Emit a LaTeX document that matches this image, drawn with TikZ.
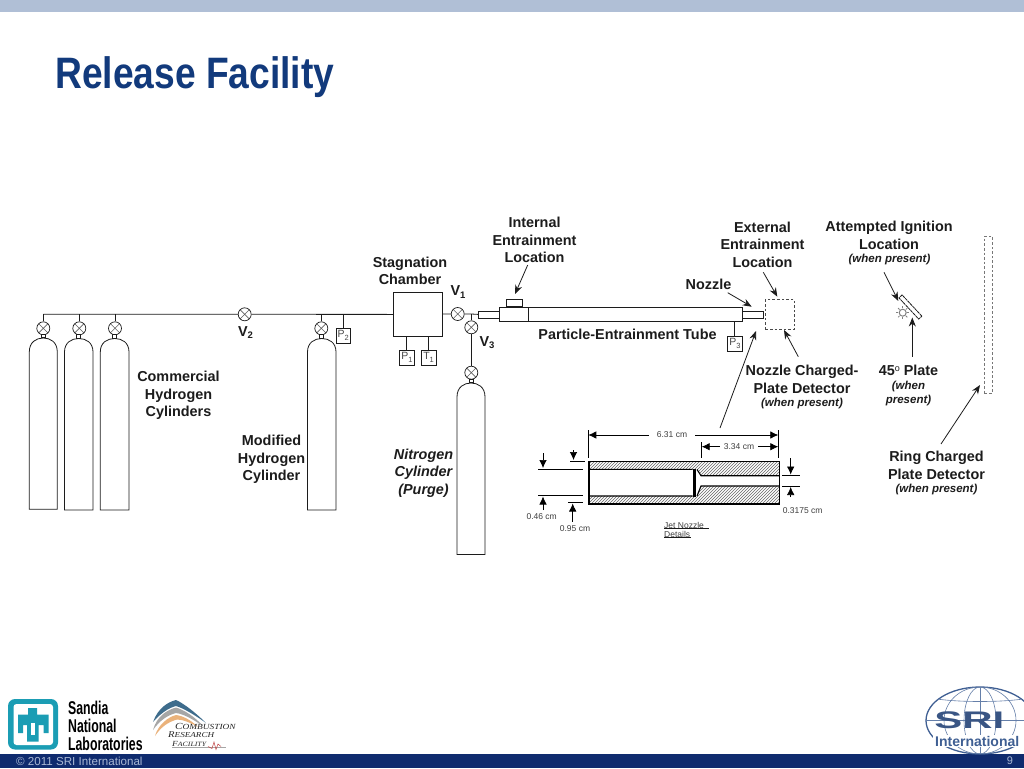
\documentclass[tikz,border=0pt]{standalone}
\usepackage{fontspec}
\setmainfont{Liberation Sans}
\newfontfamily\serifcrf{Liberation Serif}
\usetikzlibrary{arrows.meta,patterns,calc}
\definecolor{barlight}{HTML}{B0BFD6}
\definecolor{bardark}{HTML}{0F2B6E}
\definecolor{titleblue}{HTML}{123A7C}
\definecolor{inkd}{HTML}{1C1C1C}
\definecolor{teal}{HTML}{1B9DB4}
\definecolor{foot}{HTML}{A9B8D4}
\definecolor{sriblue}{HTML}{3F5F93}
\definecolor{crfblue}{HTML}{3E6C8C}
\tikzset{
  x=1pt,y=-1pt,
  pipe/.style={draw=inkd,line width=.8pt},
  valve/.style={circle,draw=inkd,line width=.7pt,minimum size=13pt,inner sep=0pt,fill=white,
    path picture={\draw[inkd!70,line width=.6pt]
      (path picture bounding box.north west)--(path picture bounding box.south east)
      (path picture bounding box.north east)--(path picture bounding box.south west);}},
  neckbox/.style={draw=inkd,line width=.7pt,minimum width=4pt,minimum height=3.5pt,inner sep=0pt,fill=white},
  gauge/.style={draw=inkd,line width=.6pt,minimum width=14.5pt,minimum height=14.5pt,inner sep=0pt,fill=white,
    font=\fontsize{10.5}{11}\selectfont,text=inkd!80},
  tubebox/.style={draw=inkd,line width=.8pt,inner sep=0pt,fill=white},
  lab/.style={align=center,inner sep=0pt,text=inkd,font=\fontsize{14.4}{17.4}\selectfont\bfseries},
  labit/.style={align=center,inner sep=0pt,text=inkd,font=\fontsize{14.4}{17.4}\selectfont\bfseries\itshape},
  sublab/.style={align=center,inner sep=0pt,text=inkd,font=\fontsize{11.5}{14.5}\selectfont\bfseries\itshape},
  dim/.style={inner sep=0pt,text=inkd!85,font=\fontsize{8.5}{9}\selectfont},
  callout/.style={draw=inkd,line width=.8pt,-{Stealth[length=9pt,width=7pt]}},
  dimline/.style={draw=black,line width=.7pt},
  dimarrow/.style={draw=black,line width=.7pt,-{Latex[length=8pt,width=7.5pt]}},
  dashbox/.style={draw=inkd!80,line width=.8pt,dashed,dash pattern=on 2.6pt off 2pt,inner sep=0pt},
  crftext/.style={anchor=west,inner sep=0pt,text=black!85,xscale=1.2},
}
\newcommand{\cylbody}[6]{% name, xl, xr, top, bottom, shoulder
  \draw[draw=inkd,line width=.8pt,fill=white] (#2,#5) -- (#2,#6)
    .. controls (#2,{#4+4}) and ({#2+7},#4) .. ({(#2+#3)/2},#4)
    .. controls ({#3-7},#4) and (#3,{#4+4}) .. (#3,#6) -- (#3,#5) -- cycle;
  \coordinate (#1) at ({(#2+#3)/2},#4);
}
\begin{document}
\begin{tikzpicture}
\useasboundingbox (0,0) rectangle (1024,768);
\fill[white] (0,0) rectangle (1024,768);
\fill[barlight] (0,0) rectangle (1024,12);
\fill[bardark] (0,754) rectangle (1024,768);
\node[anchor=west,inner sep=0pt,text=titleblue,xscale=.845,font=\fontsize{44}{48}\selectfont\bfseries] (title) at (55,77.5) {\hspace{0pt}Release Facility};

% cylinders
\cylbody{c1}{29.3}{57.3}{338}{509.3}{352}
\cylbody{c2}{64.5}{93}{338.5}{510}{352}
\cylbody{c3}{100.3}{129}{338.5}{510}{352}
\cylbody{c4}{307.5}{336}{338.5}{510}{352}
\cylbody{c5}{457}{485}{383}{554.5}{397}

% header and valves
\coordinate (h0) at (43.3,314.3);
\node[valve] (vc1) at (43.3,328.3) {};
\node[valve] (vc2) at (79.3,328.3) {};
\node[valve] (vc3) at (115,328.3) {};
\node[valve] (vc4) at (321.3,328.3) {};
\node[valve] (v2) at (244.7,314.3) {};
\node[tubebox,minimum width=49.3pt,minimum height=43.4pt,anchor=north west] (stag) at (393,292.3) {};
\draw[pipe] (h0) -- (v2.west) (v2.east) -- (stag.west);
\foreach \v in {vc1,vc2,vc3,vc4}{\draw[pipe] (\v.north) -- (\v.north |- h0);}
\foreach \v/\c in {vc1/c1,vc2/c2,vc3/c3,vc4/c4}{
  \node[neckbox,anchor=south] at (\c) {};
}
\node[gauge,anchor=north west] (p2) at (335.7,328) {P\raisebox{-2.5pt}{\fontsize{7.5}{8}\selectfont 2}};
\draw[pipe] (p2.north) -- (p2.north |- h0);

% chamber gauges
\node[gauge,anchor=north west] (p1) at (399.3,350) {P\raisebox{-2.5pt}{\fontsize{7.5}{8}\selectfont 1}};
\node[gauge,anchor=north west] (t1) at (421,350) {T\raisebox{-2.5pt}{\fontsize{7.5}{8}\selectfont 1}};
\draw[pipe] (p1.north) -- (p1.north |- stag.south);
\draw[pipe] (t1.north) -- (t1.north |- stag.south);

% V1, V3 and tube
\node[valve] (v1) at (457.7,314) {};
\node[valve] (v3) at (471.3,327.3) {};
\node[valve] (vc5) at (471.3,372.7) {};
\node[neckbox,anchor=south] at (c5) {};
\node[tubebox,minimum width=21pt,minimum height=7pt,anchor=north west] (inlet) at (478.3,310.5) {};
\node[tubebox,minimum width=28.4pt,minimum height=14.3pt,anchor=north west] (entr) at (499.3,307) {};
\node[tubebox,minimum width=15.4pt,minimum height=7.5pt,anchor=south west] (port) at (506.3,307) {};
\node[tubebox,minimum width=214pt,minimum height=14.3pt,anchor=north west] (tube) at (527.7,307) {};
\node[tubebox,minimum width=21.7pt,minimum height=7pt,anchor=north west] (noz) at (741.7,310.5) {};
\coordinate (jn) at (471.3,314);
\draw[pipe] (stag.east |- v1) -- (v1.west) (v1.east) -- (jn) -- (inlet.west);
\draw[pipe] (jn) -- (v3.north) (v3.south) -- (vc5.north);
\node[gauge,anchor=north west] (p3) at (727.3,336) {P\raisebox{-2.5pt}{\fontsize{7.5}{8}\selectfont 3}};
\draw[pipe] (p3.north) -- (p3.north |- tube.south);

% detectors
\node[dashbox,minimum width=29pt,minimum height=29.7pt,anchor=north west] (ncpd) at (765,299.3) {};
\node[dashbox,draw=inkd!60,minimum width=8pt,minimum height=156.5pt,anchor=north west] (ring) at (984,236) {};
\node[draw=inkd,line width=.8pt,minimum width=29pt,minimum height=4.3pt,inner sep=0pt,rotate=-47,fill=white,
   dash pattern=on 3pt off .6pt] (plate) at (910.4,307) {};
\node[circle,draw=gray,line width=1pt,minimum size=7pt,inner sep=0pt] (spark) at (902.7,312.7) {};
\foreach \a in {0,45,...,315}{\draw[gray,line width=.8pt] (spark) ++(\a:4.5) -- ++(\a:2);}

% labels
\node[lab] (lcom) at (178.5,395.5) {Commercial\\Hydrogen\\Cylinders};
\node[lab] (lmod) at (271.5,459.5) {Modified\\Hydrogen\\Cylinder};
\node[lab] (lsta) at (410,271) {Stagnation\\Chamber};
\node[lab] (lv1) at (458,292) {V\raisebox{-2.5pt}{\fontsize{9.5}{10}\selectfont 1}};
\node[lab] (lv2) at (245.5,332.5) {V\raisebox{-2.5pt}{\fontsize{9.5}{10}\selectfont 2}};
\node[lab] (lv3) at (487,342.5) {V\raisebox{-2.5pt}{\fontsize{9.5}{10}\selectfont 3}};
\node[lab] (lint) at (534.5,240) {Internal\\Entrainment\\Location};
\node[lab] (lpar) at (627.5,334) {Particle-Entrainment Tube};
\node[lab] (lext) at (762.5,244.5) {External\\Entrainment\\Location};
\node[lab] (lnoz) at (708.5,284.5) {Nozzle};
\node[lab] (latt) at (889,235.5) {Attempted Ignition\\Location};
\node[sublab] (latt2) at (889.5,260) {(when present)};
\node[lab] (lncp) at (802,379.5) {Nozzle Charged-\\Plate Detector};
\node[sublab] (lncp2) at (802,404) {(when present)};
\node[lab] (l45) at (908.5,370.5) {45\raisebox{4pt}{\fontsize{9}{10}\selectfont\mdseries o} Plate};
\node[sublab] (l452) at (908.5,387) {(when};
\node[sublab] (l453) at (908.5,401) {present)};
\node[lab] (lrin) at (936.5,465.5) {Ring Charged\\Plate Detector};
\node[sublab] (lrin2) at (936.5,490) {(when present)};
\node[labit] (lnit) at (423.5,473) {Nitrogen\\Cylinder\\(Purge)};

% callouts
\draw[callout] (527.7,265) -- (515,294);
\draw[callout] (727.7,292.7) -- (751.7,306.7);
\draw[callout] (763.3,272.3) -- (777.3,296.7);
\draw[callout] (798.3,356.7) -- (784,330);
\draw[callout] (884,272.3) -- (898.3,301);
\draw[callout] (912.3,356.7) -- (912.3,317.5);
\draw[callout] (941,444) -- (980,385);
\draw[callout] (720,428) -- (756,331);

% jet nozzle detail
\path[pattern=north east lines,pattern color=black!60] (588.3,461) rectangle (779,503.3);
\fill[white] (588.3,469.3) rectangle (692.7,496);
\fill[white] (692.7,469.3) -- (697,469.3) -- (701,475.7) -- (779,475.7) -- (779,486) -- (701,486) -- (697,496) -- (692.7,496) -- cycle;
\node[draw=black,line width=1.2pt,minimum width=190.7pt,minimum height=42.3pt,inner sep=0pt,anchor=north west] (nozbody) at (588.3,461) {};
\draw[black,line width=1.1pt] (588.3,469.3) -- (692.7,469.3) (588.3,496) -- (692.7,496)
   (697,469.5) -- (701,475.7) -- (779,475.7) (697,496) -- (701,486) -- (779,486);
\fill[black] (692.7,468.8) -- (696,468.8) -- (696,496.5) -- (692.7,496.5) -- cycle;

\coordinate (e1a) at (588.3,430); \coordinate (e1b) at (588.3,458);
\coordinate (e2a) at (778.3,430); \coordinate (e2b) at (778.3,458);
\coordinate (e3a) at (701.7,442); \coordinate (e3b) at (701.7,458);
\draw[dimline] (e1a) -- (e1b) (e2a) -- (e2b) (e3a) -- (e3b);
\node[dim] (d631) at (672,435) {6.31 cm};
\node[dim] (d334) at (739,446.7) {3.34 cm};
\draw[dimarrow] (d631.west) ++(-8,0) -- (e1a |- d631);
\draw[dimarrow] (d631.east) ++(8,0) -- (e2a |- d631);
\draw[dimarrow] (d334.west) ++(-4,0) -- (e3a |- d334);
\draw[dimarrow] (d334.east) ++(4,0) -- (e2a |- d334);

\coordinate (t1) at (538,469.5); \coordinate (t1e) at (583,469.5);
\coordinate (t2) at (538,495.3); \coordinate (t2e) at (583,495.3);
\coordinate (t3) at (570,461); \coordinate (t3e) at (585,461);
\coordinate (t4) at (568,502.3); \coordinate (t4e) at (583,502.3);
\coordinate (t5) at (782,475.5); \coordinate (t5e) at (800,475.5);
\coordinate (t6) at (782,486.2); \coordinate (t6e) at (800,486.2);
\draw[dimline] (t1) -- (t1e) (t2) -- (t2e) (t3) -- (t3e) (t4) -- (t4e) (t5) -- (t5e) (t6) -- (t6e);
\draw[dimarrow] (543,453) -- (543,468);
\draw[dimarrow] (543,510) -- (543,496.5);
\draw[dimarrow] (573.5,450) -- (573.5,460);
\draw[dimarrow] (572.7,521.5) -- (572.7,503.5);
\draw[dimarrow] (790.7,458) -- (790.7,474.5);
\draw[dimarrow] (790.7,497) -- (790.7,487);
\node[dim] (d46) at (541.7,516.7) {0.46 cm};
\node[dim] (d95) at (575,529) {0.95 cm};
\node[dim] (d31) at (802.7,511) {0.3175 cm};
\node[dim,anchor=west] (djet) at (664,525) {Jet Nozzle};
\node[dim,anchor=west] (ddet) at (664,534) {Details};
\draw[inkd,line width=.6pt] (664,528.5) -- (709,528.5) (664,537.5) -- (691,537.5);

% footer
\node[anchor=west,inner sep=0pt,text=foot,font=\fontsize{11.6}{12}\selectfont] (copy) at (16,761) {© 2011 SRI International};
\node[inner sep=0pt,text=foot,font=\fontsize{11}{12}\selectfont] (pg) at (1010,760.5) {9};

% Sandia logo
\fill[teal,rounded corners=7pt] (8,699) rectangle (58,749.5);
\fill[white,rounded corners=3pt] (13.5,704) rectangle (53,745);
\fill[teal] (28,708) -- (37,708) -- (37,714.5) -- (48.5,714.5) -- (48.5,733) -- (43.5,733) -- (43.5,725) -- (38.5,725)
  -- (38.5,741.5) -- (27,741.5) -- (27,725) -- (23,725) -- (23,733) -- (18,733) -- (18,714.5) -- (28,714.5) -- cycle;
\fill[white] (31,723) rectangle (34.5,735);
\node[anchor=west,inner sep=0pt,xscale=.665,align=left,text=black,font=\fontsize{18.5}{18}\selectfont\bfseries] (sandia) at (68,725.5) {Sandia\\National\\Laboratories};

% CRF logo
\fill[crfblue] (153,722) .. controls (158,708) and (168,702) .. (176,700) .. controls (183,703) and (195,712) .. (206,723)
  .. controls (195,715) and (183,708) .. (176,706) .. controls (168,708) and (160,714) .. (153,722) -- cycle;
\fill[gray!70] (153,730) .. controls (157,716) and (167,710) .. (176,707.5) .. controls (184,710) and (194,716) .. (203,726)
  .. controls (194,720) and (184,714) .. (176,713) .. controls (168,715) and (160,720) .. (153,730) -- cycle;
\fill[brown!55!orange!60] (155,736) .. controls (158,725) and (168,717) .. (176,715) .. controls (184,716) and (192,721) .. (198,727)
  .. controls (191,723) and (183,719.5) .. (177,719.5) .. controls (168,722) and (161,727) .. (155,736) -- cycle;
\node[crftext,font=\serifcrf\itshape\fontsize{9.3}{9.5}\selectfont] (crf1) at (175,726) {C{\fontsize{7.8}{8}\selectfont OMBUSTION}};
\node[crftext,font=\serifcrf\itshape\fontsize{8.8}{9}\selectfont] (crf2) at (168,735) {R{\fontsize{7.6}{8}\selectfont ESEARCH}};
\node[crftext,font=\serifcrf\itshape\fontsize{7.8}{8}\selectfont] (crf3) at (172,743.5) {F{\fontsize{6.5}{7}\selectfont ACILITY}};
\draw[gray!70,line width=.5pt] (172,747) -- (226,747);
\draw[red!50!gray,line width=.5pt] (208,746.5) -- (212,748.5) -- (214,742) -- (216,749.5) -- (218,744) -- (221,746.5);

% SRI logo
\begin{scope}
\clip (900,670) rectangle (1024,754);
\draw[sriblue,line width=1.3pt,fill=white] (980,720.5) ellipse [x radius=54,y radius=33.5];
\begin{scope}
\clip (980,720.5) ellipse [x radius=54,y radius=33.5];
\foreach \r in {16,36}{\draw[sriblue!80,line width=.6pt] (980,720.5) ellipse [x radius=\r,y radius=33.5];}
\draw[sriblue!80,line width=.6pt] (980,687) -- (980,754);
\draw[sriblue!80,line width=.6pt] (926,697) .. controls (950,703) and (1010,703) .. (1034,697);
\draw[sriblue!80,line width=.6pt] (926,720.5) -- (1034,720.5);
\draw[sriblue!80,line width=.6pt] (930,746) .. controls (950,738) and (1010,738) .. (1030,746);
\end{scope}
\node[anchor=west,inner sep=0pt,xscale=1.75,text=sriblue!90!black,font=\fontsize{24}{25}\selectfont\bfseries] (sri) at (934,720.5) {SRI};
\fill[white] (933,734.5) rectangle (1024,747);
\node[anchor=west,inner sep=0pt,text=sriblue,font=\fontsize{14}{14}\selectfont\bfseries] (sriint) at (935,741) {International};
\end{scope}
\end{tikzpicture}
\end{document}
